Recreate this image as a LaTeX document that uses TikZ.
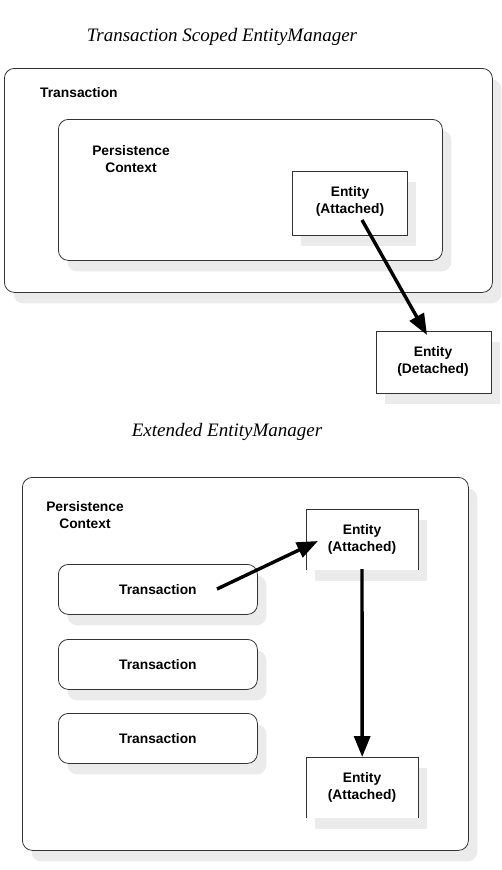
\documentclass[tikz,border=0pt]{standalone}
\usepackage{fontspec}
\setmainfont{Liberation Serif}
\setsansfont{Liberation Sans}
\usetikzlibrary{arrows.meta,shadows}

\begin{document}
\begin{tikzpicture}[x=1pt,y=-1pt,
    shade/.style={drop shadow={shadow xshift=9pt,shadow yshift=-11pt,fill=black!8,opacity=1}},
    roundbox/.style={draw=black!80,line width=0.8pt,fill=white,rounded corners=10pt,
      inner sep=0pt,anchor=north west,shade},
    entbox/.style={draw=black!80,line width=0.8pt,fill=white,inner sep=0pt,
      anchor=north west,shade},
    openbox/.style={fill=white,inner sep=0pt,anchor=north west,shade},
    lbl/.style={font=\sffamily\bfseries\fontsize{13.8}{17}\selectfont,align=center,inner sep=0pt},
    ttl/.style={font=\itshape\fontsize{19}{22}\selectfont,inner sep=0pt},
    bigarrow/.style={line width=3.4pt,-{Triangle[length=21pt,width=16pt]}}]
  \useasboundingbox (0,0) rectangle (501,870);

  %TOP: TRANSACTION SCOPED
  \node[ttl] (title1) at (222,37) {Transaction Scoped EntityManager};
  \node[roundbox,minimum width=488pt,minimum height=224pt] (tx) at (4,68) {};
  \node[lbl,anchor=west] (txlbl) at (40,93) {Transaction};
  \node[roundbox,minimum width=384pt,minimum height=141pt] (pc) at (58,119) {};
  \node[lbl] (pclbl) at (131,159) {Persistence\\Context};
  \node[entbox,minimum width=115pt,minimum height=64pt] (att) at (292,171) {};
  \node[lbl] (attlbl) at (350,201) {Entity\\(Attached)};
  \node[entbox,minimum width=115pt,minimum height=62pt] (det) at (376,331) {};
  \node[lbl] (detlbl) at (433,361) {Entity\\(Detached)};
  \coordinate (a1) at (362,220);
  \coordinate (a1end) at (427,335);
  \draw[bigarrow] (a1) -- (a1end);

  %BOTTOM: EXTENDED
  \node[ttl] (title2) at (227,432) {Extended EntityManager};
  \node[roundbox,minimum width=446pt,minimum height=373pt] (epc) at (22,477) {};
  \node[lbl] (epclbl) at (85,515) {Persistence\\Context};
  \foreach \i/\y in {1/564,2/639,3/713}{
    \node[roundbox,minimum width=199pt,minimum height=50pt] (t\i) at (58,\y) {};
    \node[lbl] at (t\i.center) {Transaction};
  }
  \node[openbox,minimum width=112pt,minimum height=61pt] (e1) at (306,509) {};
  \draw[black!80,line width=0.8pt] (e1.south west) |- (e1.north east) -- (e1.south east);
  \node[lbl] (e1lbl) at (362,539) {Entity\\(Attached)};
  \node[openbox,minimum width=112pt,minimum height=61pt] (e2) at (306,757) {};
  \draw[black!80,line width=0.8pt] (e2.south west) |- (e2.north east) -- (e2.south east);
  \node[lbl] (e2lbl) at (362,787) {Entity\\(Attached)};
  \coordinate (b1) at (217,589);
  \coordinate (b1end) at (318,541);
  \draw[bigarrow] (b1) -- (b1end);
  \coordinate (b2) at (362,569);
  \draw[bigarrow] (b2) -- (e2.north);
\end{tikzpicture}
\end{document}
